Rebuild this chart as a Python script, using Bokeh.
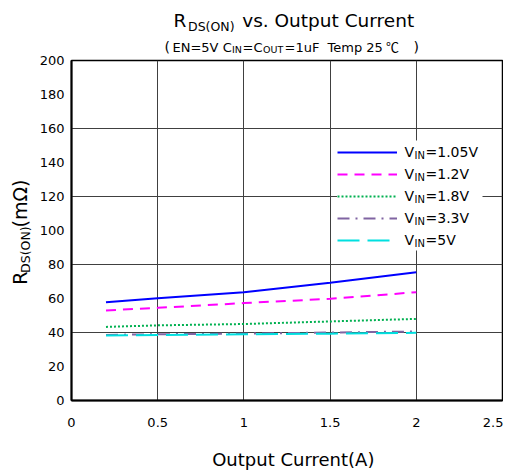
import math
from bokeh.plotting import figure
from bokeh.layouts import column, row
from bokeh.models import (Range1d, FixedTicker, LabelSet, Legend, LegendItem,
                          BoxAnnotation, ColumnDataSource)
from bokeh.core.properties import field
from bokeh.embed import file_html
from bokeh.resources import INLINE

# ---- data ----
current = [0.2, 0.5, 1.0, 1.5, 2.0]
rds_vin_105 = [57.8, 60.2, 63.7, 69.2, 75.5]
rds_vin_12 = [53.0, 54.5, 57.3, 59.8, 63.7]
rds_vin_18 = [43.3, 44.2, 45.0, 46.5, 48.0]
rds_vin_33 = [38.6, 39.0, 39.3, 40.0, 40.6]
rds_vin_5 = [38.2, 38.5, 38.9, 39.3, 39.8]
vin_labels = ["=1.05V", "=1.2V", "=1.8V", "=3.3V", "=5V"]
x_ticks = [0, 0.5, 1, 1.5, 2, 2.5]
x_tick_labels = ["0", "0.5", "1", "1.5", "2", "2.5"]
y_ticks = [0, 20, 40, 60, 80, 100, 120, 140, 160, 180, 200]
y_grid_ticks = [40, 80, 120, 160]
x_grid_ticks = [0.5, 1, 1.5, 2]

FONT = "DejaVu Sans"
TOTAL_W, TOTAL_H = 503, 470
TOP_H, LEFT_W, BOTTOM_H = 55, 35, 30
MAIN_W = TOTAL_W - LEFT_W
MAIN_H = TOTAL_H - TOP_H - BOTTOM_H
# plot frame in page pixels
FX0, FX1, FY0, FY1 = 71, 502, 60, 400

p = figure(width=MAIN_W, height=MAIN_H, output_backend="svg", toolbar_location=None,
           x_range=Range1d(0, 2.5), y_range=Range1d(0, 200),
           min_border_left=FX0 - LEFT_W, min_border_right=TOTAL_W - FX1,
           min_border_top=FY0 - TOP_H, min_border_bottom=TOP_H + MAIN_H - FY1)
p.title.visible = False
p.background_fill_color = "white"
p.border_fill_color = "white"
p.outline_line_color = "black"
p.outline_line_width = 1.5
p.outline_line_alpha = 1


def dx(px):
    return (px - FX0) / (FX1 - FX0) * 2.5


def dy(py):
    return (FY1 - py) / (FY1 - FY0) * 200


for ax in (p.xaxis[0], p.yaxis[0]):
    ax.axis_line_color = "black"
    ax.axis_line_width = 2
    ax.major_tick_out = 0
    ax.major_tick_in = 0
    ax.minor_tick_out = 0
    ax.minor_tick_in = 0
    ax.major_label_text_font = FONT
    ax.major_label_text_font_size = "13px"
    ax.major_label_text_color = "black"

p.xaxis.ticker = FixedTicker(ticks=x_ticks)
p.xaxis.major_label_overrides = {float(t): l for t, l in zip(x_ticks, x_tick_labels)}
p.xaxis.major_label_standoff = 17
p.yaxis.ticker = FixedTicker(ticks=y_ticks)
p.yaxis.major_label_standoff = 7

p.xgrid.ticker = FixedTicker(ticks=x_grid_ticks)
p.ygrid.ticker = FixedTicker(ticks=y_grid_ticks)
for g in (p.xgrid[0], p.ygrid[0]):
    g.grid_line_color = "#404040"
    g.grid_line_width = 1
    g.grid_line_alpha = 1

# white legend background (covers the grid lines, beneath the data)
p.add_layout(BoxAnnotation(left=dx(337), right=dx(482), top=dy(140), bottom=dy(250),
                           fill_color="white", fill_alpha=1, line_color=None,
                           level="underlay"))

series = [rds_vin_105, rds_vin_12, rds_vin_18, rds_vin_33, rds_vin_5]
styles = [("#0000FF", "solid"), ("#FF00FF", "10 7"), ("#00B050", "2 2"),
          ("#8064A2", "12 6 2 6"), ("#00E0E0", "22 8")]
renderers = []
for ys, (col, dash) in zip(series, styles):
    r = p.line(current, ys, line_color=col, line_width=2, line_dash=dash)
    renderers.append(r)

legend = Legend(items=[LegendItem(label=" ", renderers=[r]) for r in renderers],
                location=(266, 150), padding=0, margin=0, spacing=2,
                glyph_width=60, glyph_height=20, label_height=20,
                label_width=0, label_standoff=0,
                label_text_font_size="6px",
                border_line_color=None, background_fill_color="white",
                background_fill_alpha=1)
p.add_layout(legend, "center")


def runs():
    return {"text": [], "x": [], "y": [], "size": [], "font": [], "angle": []}


def add(r, s, x, y, size, font=FONT, angle=0.0):
    r["text"].append(s)
    r["x"].append(x)
    r["y"].append(y)
    r["size"].append(f"{size}px")
    r["font"].append(font)
    r["angle"].append(angle)


def labelset(r):
    return LabelSet(x="x", y="y", text="text", source=ColumnDataSource(r),
                    text_font=field("font"), text_font_size=field("size"),
                    angle=field("angle"), text_align="left",
                    text_baseline="alphabetic", text_color="black",
                    level="overlay")


# legend texts (inside the main frame)
leg = runs()
row_centers = [152, 174, 196, 218, 240]
for lab, yc in zip(vin_labels, row_centers):
    add(leg, "V", dx(404), dy(yc + 4.5), 14)
    add(leg, "IN", dx(414), dy(yc + 6), 10)
    add(leg, lab, dx(425), dy(yc + 4.5), 14)
p.add_layout(labelset(leg))


def strip(w, h):
    s = figure(width=w, height=h, output_backend="svg", toolbar_location=None,
               x_range=Range1d(0, w), y_range=Range1d(h, 0),
               x_axis_location=None, y_axis_location=None, min_border=0)
    s.title.visible = False
    s.grid.visible = False
    s.outline_line_color = None
    s.background_fill_color = "white"
    s.border_fill_color = "white"
    return s


# title strip (local pixel coordinates, y downward)
top = strip(TOTAL_W, TOP_H)
t = runs()
add(t, "R", 173, 26.7, 18.5)
add(t, "DS(ON)", 187.5, 30, 12.5)
add(t, "vs. Output Current", 241.7, 26.7, 18.5)
add(t, "(", 164, 51.3, 14)
add(t, "EN=5V C", 172, 51.5, 13)
add(t, "IN", 231.5, 52.3, 9.5)
add(t, "=C", 242, 51.5, 13)
add(t, "OUT", 262.5, 52.3, 9.5)
add(t, "=1uF", 284, 51.5, 13)
add(t, "Temp 25", 327, 51.5, 13)
add(t, "\u2103", 385.5, 51.5, 13, font="Noto Sans CJK SC")
add(t, ")", 413, 51.3, 14)
top.add_layout(labelset(t))

# y-label strip (rotated runs; anchor corrected for the observed offset)
left = strip(LEFT_W, MAIN_H)
yl = runs()
A = math.pi / 2
Y0 = 309 - TOP_H
add(yl, "R", 27, Y0, 19, angle=A)
add(yl, "DS(ON)", 30, Y0 - 13.5, 12.5, angle=A)
add(yl, "(m\u03a9)", 27, Y0 - 13.5 - 46.5 - 5, 19, angle=A)
left.add_layout(labelset(yl))

# x-label strip
bottom = strip(TOTAL_W, BOTTOM_H)
xl = runs()
add(xl, "Output Current(A)", 211.7, 465 - TOP_H - MAIN_H, 18)
bottom.add_layout(labelset(xl))

layout = column(top, row(left, p, spacing=0), bottom, spacing=0)
open("out.html", "w").write(file_html(layout, INLINE))
